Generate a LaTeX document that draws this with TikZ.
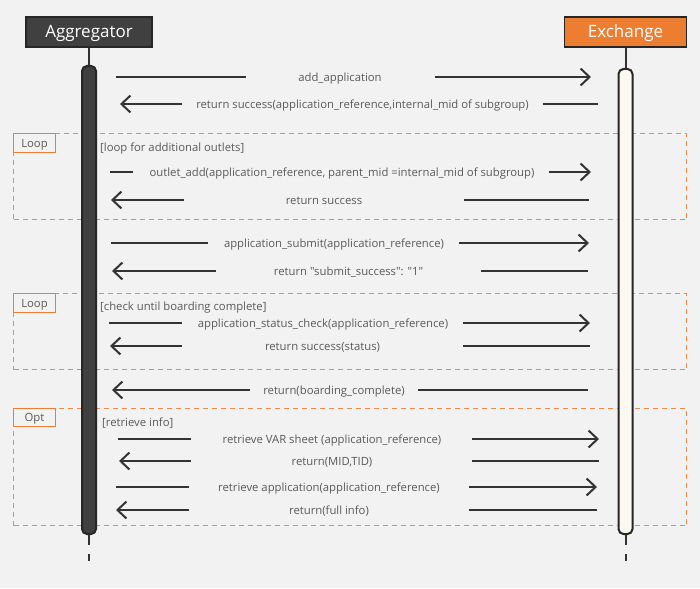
\documentclass[tikz,border=0pt]{standalone}
\usepackage{fontspec}
\newfontfamily\osans{Open Sans}
\usetikzlibrary{arrows.meta}
\definecolor{bg}{HTML}{F2F2F2}
\definecolor{ink}{HTML}{333333}
\definecolor{darkbox}{HTML}{404040}
\definecolor{txt}{HTML}{595959}
\definecolor{orng}{HTML}{ED7D31}
\definecolor{dashc}{HTML}{EF8B4C}
\definecolor{ivory}{HTML}{FBF8F2}
\newcommand\msgR[8]{%
  \coordinate (#1a) at (#3,#2); \coordinate (#1b) at (#4,#2);
  \node[msgtext] (#1t) at (#5,#2+4.5) {#6};
  \coordinate (#1c) at (#7,#2); \coordinate (#1d) at (#8,#2);
  \draw[msg] (#1a) -- (#1b);
  \draw[msg,-{Straight Barb[length=9pt,width=17pt]}] (#1c) -- (#1d);
}
\newcommand\msgL[8]{%
  \coordinate (#1a) at (#3,#2); \coordinate (#1b) at (#4,#2);
  \node[msgtext] (#1t) at (#5,#2+4.5) {#6};
  \coordinate (#1c) at (#7,#2); \coordinate (#1d) at (#8,#2);
  \draw[msg,{Straight Barb[length=9pt,width=17pt]}-] (#1a) -- (#1b);
  \draw[msg] (#1c) -- (#1d);
}
\begin{document}
\begin{tikzpicture}[x=1pt,y=-1pt,
  msg/.style={draw=ink,line width=2pt},
  msgtext/.style={text=txt,font=\osans\fontsize{11.3}{13}\selectfont,inner sep=0pt,anchor=base},
  guard/.style={text=txt,font=\osans\fontsize{11.3}{13}\selectfont,inner sep=0pt,anchor=base west},
  frame/.style={draw=dashc,line width=1.4pt,dash pattern=on 5pt off 4pt,anchor=north west,inner sep=0pt},
  tag/.style={draw=orng,line width=1pt,fill=bg,anchor=north west,minimum width=42pt,minimum height=19pt,inner sep=0pt,text height=8pt,text depth=0pt,text=txt,font=\osans\fontsize{11.3}{13}\selectfont},
  hdr/.style={draw=black!85,line width=1.5pt,minimum width=126pt,minimum height=30pt,inner sep=0pt,text height=12pt,text depth=0pt,text=white,font=\osans\fontsize{17}{19}\selectfont},
  bar/.style={draw=black!85,line width=2pt,rounded corners=5pt,minimum width=14pt,inner sep=0pt},
  life/.style={draw=ink,line width=2pt}
]
\fill[bg] (0,0) rectangle (700,588);
\useasboundingbox (0,0) rectangle (700,588);

% frames
\node[frame,minimum width=673pt,minimum height=86pt] (loopA) at (13,133) {};
\node[tag] (loopAt) at (loopA.north west) {Loop};
\node[guard] (loopAg) at (100,151) {[loop for additional outlets]};

\node[frame,minimum width=673pt,minimum height=76pt] (loopB) at (13,293) {};
\node[tag] (loopBt) at (loopB.north west) {Loop};
\node[guard] (loopBg) at (100,310) {[check until boarding complete]};

\node[frame,minimum width=673pt,minimum height=117pt] (optC) at (13,408) {};
\node[tag,minimum height=18pt] (optCt) at (optC.north west) {Opt};
\node[guard] (optCg) at (102,426) {[retrieve info]};

% headers and lifelines
\node[hdr,fill=darkbox] (agg) at (89,32) {Aggregator};
\node[hdr,fill=orng,minimum width=122pt] (exc) at (625.5,32) {Exchange};
\node[bar,fill=darkbox,minimum height=468pt] (aggbar) at (89,300) {};
\node[bar,fill=ivory,minimum height=465pt] (excbar) at (625.5,301.5) {};
\draw[life] (agg.south) -- (aggbar.north);
\draw[life] (exc.south) -- (excbar.north);
\coordinate (aggend) at (89,561);
\coordinate (excend) at (625.5,561);
\draw[life,dash pattern=on 10pt off 9pt on 8pt off 20pt] (aggbar.south) -- (aggend);
\draw[life,dash pattern=on 10pt off 9pt on 8pt off 20pt] (excbar.south) -- (excend);

% messages
\msgR{m1}{77}{116}{246}{340}{add\_application}{435}{591}
\msgL{m2}{104}{120}{182}{362.5}{return success(application\_reference,internal\_mid of subgroup)}{543}{598}
\msgR{m3}{172}{110}{133}{342}{outlet\_add(application\_reference, parent\_mid =internal\_mid of subgroup)}{549}{591}
\msgL{m4}{200}{111}{184}{324}{return success}{464}{589}
\msgR{m5}{243}{111}{208}{334}{application\_submit(application\_reference)}{459}{589}
\msgL{m6}{271}{112}{216}{348.5}{return "submit\_success": "1"}{481}{588}
\msgR{m7}{323}{109}{182}{323}{application\_status\_check(application\_reference)}{463}{590}
\msgL{m8}{346}{110}{182}{322.5}{return success(status)}{463}{590}
\msgL{m9}{390}{112}{250}{334}{return(boarding\_complete)}{418}{588}
\msgR{m10}{439}{118}{191}{332}{retrieve VAR sheet (application\_reference)}{472}{599}
\msgL{m11}{461}{119}{191}{332}{return(MID,TID)}{472}{599}
\msgR{m12}{487}{116}{189}{329}{retrieve application(application\_reference)}{469}{597}
\msgL{m13}{510}{116}{189}{329}{return(full info)}{469}{597}
\end{tikzpicture}
\end{document}
